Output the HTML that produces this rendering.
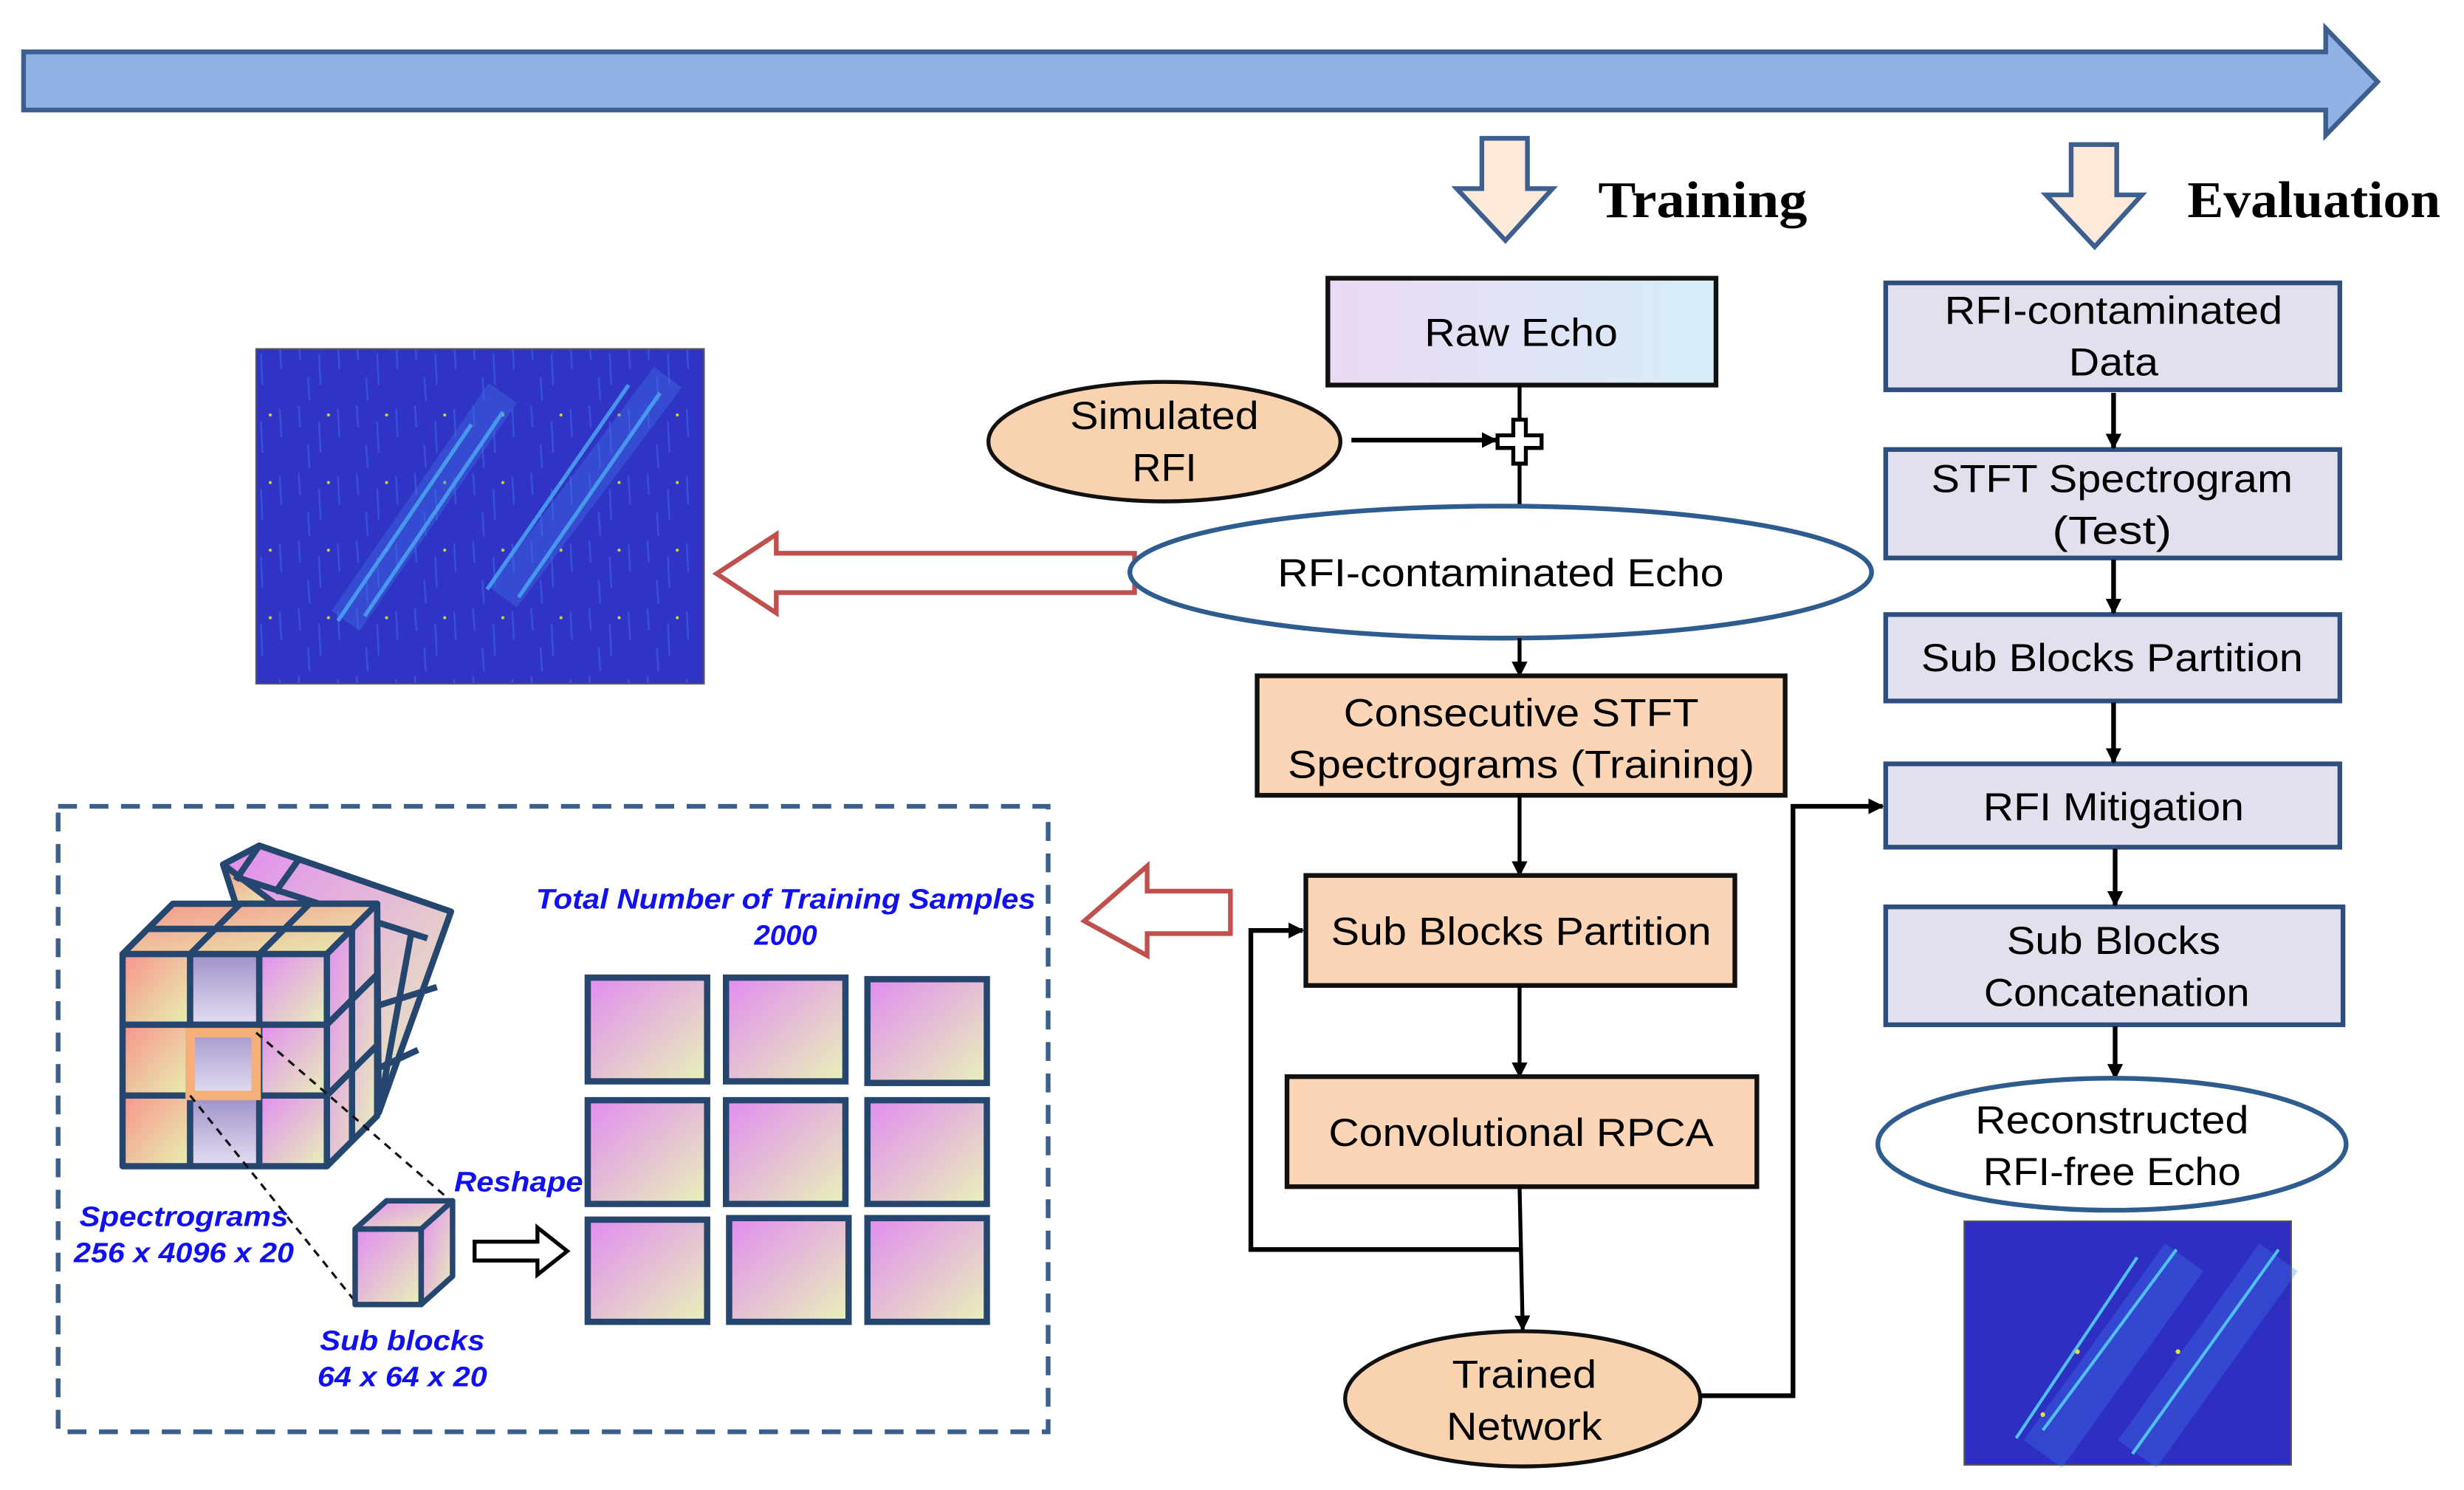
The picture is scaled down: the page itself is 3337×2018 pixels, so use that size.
<!DOCTYPE html>
<html><head><meta charset="utf-8"><style>html,body{margin:0;padding:0;background:#fff}svg{display:block}</style></head>
<body>
<svg width="3337" height="2018" viewBox="0 0 1568 948" preserveAspectRatio="none" xmlns="http://www.w3.org/2000/svg" font-family="Liberation Sans, Arial, sans-serif">
<defs>
<linearGradient id="raw" x1="0" y1="0" x2="1" y2="0"><stop offset="0" stop-color="#ead9f3"/><stop offset="1" stop-color="#d6edf8"/></linearGradient>
<linearGradient id="cellA" x1="0" y1="0" x2="1" y2="1"><stop offset="0" stop-color="#f7948c"/><stop offset="1" stop-color="#e6f0b0"/></linearGradient>
<linearGradient id="cellB" x1="0" y1="0" x2="0" y2="1"><stop offset="0" stop-color="#9f90c8"/><stop offset="1" stop-color="#e3def2"/></linearGradient>
<linearGradient id="cellC" x1="0" y1="0" x2="1" y2="1"><stop offset="0" stop-color="#e18cf0"/><stop offset="1" stop-color="#e8f2b8"/></linearGradient>
<marker id="ah" markerWidth="10" markerHeight="10" refX="9" refY="5" orient="auto" markerUnits="userSpaceOnUse"><path d="M0,0 L10,5 L0,10 z" fill="#000"/></marker>
<pattern id="spec" width="37" height="43" patternUnits="userSpaceOnUse">
<rect width="37" height="43" fill="#3034c4"/>
<path d="M5,0 L6,14 M18,10 L19,30 M30,2 L31,20 M11,25 L12,40" stroke="#3c62e0" stroke-width="1" opacity="0.7"/>
<circle cx="24" cy="6" r="1" fill="#c8d640"/>
</pattern>
</defs>

<!-- top arrow -->
<polygon points="15,33 1480,33 1480,18 1513,52 1480,86 1480,70 15,70" fill="#8eb3e3" stroke="#3c5f8f" stroke-width="3"/>
<!-- down arrows -->
<polygon points="943,88 972,88 972,120 988,120 958,153 927,120 943,120" fill="#fde9da" stroke="#3c5f8f" stroke-width="3"/>
<polygon points="1318,92 1347,92 1347,124 1363,124 1333,157 1302,124 1318,124" fill="#fde9da" stroke="#3c5f8f" stroke-width="3"/>
<text x="1017" y="138" font-family="Liberation Serif, serif" font-weight="bold" font-size="33" textLength="133" lengthAdjust="spacingAndGlyphs">Training</text>
<text x="1392" y="138" font-family="Liberation Serif, serif" font-weight="bold" font-size="33" textLength="161" lengthAdjust="spacingAndGlyphs">Evaluation</text>

<!-- spectrogram left -->
<rect x="163" y="222" width="285" height="213" fill="url(#spec)" stroke="#555" stroke-width="1"/>
<g stroke="#3f78ea" stroke-width="22" opacity="0.35" fill="none">
<path d="M220,395 L320,250"/><path d="M320,380 L425,240"/>
</g>
<g stroke="#49a0f0" stroke-width="2.5" opacity="0.9" fill="none">
<path d="M215,395 L300,270"/><path d="M232,392 L320,262"/><path d="M310,375 L400,245"/><path d="M330,380 L420,250"/>
</g>

<!-- red hollow arrows -->
<polygon points="722,352 494,352 494,340 456,365 494,390 494,377 722,377" fill="#fff" stroke="#c0504d" stroke-width="3"/>
<polygon points="783,567 730,567 730,551 690,586 730,608 730,594 783,594" fill="#fff" stroke="#c0504d" stroke-width="3"/>

<!-- training column -->
<rect x="845" y="177" width="247" height="68" fill="url(#raw)" stroke="#111" stroke-width="3"/>
<text x="968" y="220" font-size="25" text-anchor="middle" textLength="123" lengthAdjust="spacingAndGlyphs">Raw Echo</text>
<line x1="967" y1="245" x2="967" y2="322" stroke="#000" stroke-width="2.5"/>
<ellipse cx="741" cy="281" rx="112" ry="38" fill="#f9d3b0" stroke="#111" stroke-width="2.5"/>
<text x="741" y="273" font-size="25" text-anchor="middle" textLength="120" lengthAdjust="spacingAndGlyphs">Simulated</text>
<text x="741" y="306" font-size="25" text-anchor="middle" textLength="41" lengthAdjust="spacingAndGlyphs">RFI</text>
<line x1="860" y1="280" x2="952" y2="280" stroke="#000" stroke-width="3" marker-end="url(#ah)"/>
<polygon points="963,267 971,267 971,277 981,277 981,285 971,285 971,295 963,295 963,285 953,285 953,277 963,277" fill="#fff" stroke="#000" stroke-width="2.5"/>
<ellipse cx="955" cy="364" rx="236" ry="42" fill="#fff" stroke="#2e5c8f" stroke-width="3"/>
<text x="955" y="373" font-size="25" text-anchor="middle" textLength="284" lengthAdjust="spacingAndGlyphs">RFI-contaminated Echo</text>
<line x1="967" y1="406" x2="967" y2="430" stroke="#000" stroke-width="2.5" marker-end="url(#ah)"/>
<rect x="800" y="430" width="336" height="76" fill="#fbd5b5" stroke="#111" stroke-width="3"/>
<text x="968" y="462" font-size="25" text-anchor="middle" textLength="226" lengthAdjust="spacingAndGlyphs">Consecutive STFT</text>
<text x="968" y="495" font-size="25" text-anchor="middle" textLength="297" lengthAdjust="spacingAndGlyphs">Spectrograms (Training)</text>
<line x1="967" y1="506" x2="967" y2="557" stroke="#000" stroke-width="2.5" marker-end="url(#ah)"/>
<rect x="831" y="557" width="273" height="70" fill="#fbd5b5" stroke="#111" stroke-width="3"/>
<text x="968" y="601" font-size="25" text-anchor="middle" textLength="242" lengthAdjust="spacingAndGlyphs">Sub Blocks Partition</text>
<line x1="967" y1="627" x2="967" y2="685" stroke="#000" stroke-width="2.5" marker-end="url(#ah)"/>
<rect x="819" y="685" width="299" height="70" fill="#fbd5b5" stroke="#111" stroke-width="3"/>
<text x="968" y="729" font-size="25" text-anchor="middle" textLength="245" lengthAdjust="spacingAndGlyphs">Convolutional RPCA</text>
<line x1="967" y1="755" x2="969" y2="846" stroke="#000" stroke-width="2.5" marker-end="url(#ah)"/>
<polyline points="967,795 796,795 796,592 829,592" fill="none" stroke="#000" stroke-width="3" marker-end="url(#ah)"/>
<ellipse cx="969" cy="890" rx="113" ry="43" fill="#f9d3b0" stroke="#111" stroke-width="2.5"/>
<text x="970" y="883" font-size="25" text-anchor="middle" textLength="92" lengthAdjust="spacingAndGlyphs">Trained</text>
<text x="970" y="916" font-size="25" text-anchor="middle" textLength="99" lengthAdjust="spacingAndGlyphs">Network</text>
<polyline points="1082,888 1141,888 1141,513 1198,513" fill="none" stroke="#000" stroke-width="3" marker-end="url(#ah)"/>

<!-- evaluation column -->
<g fill="#e3e0ee" stroke="#2e4e7e" stroke-width="3">
<rect x="1200" y="180" width="289" height="68"/>
<rect x="1200" y="286" width="289" height="69"/>
<rect x="1200" y="391" width="289" height="55"/>
<rect x="1200" y="486" width="289" height="53"/>
<rect x="1200" y="577" width="291" height="75"/>
</g>
<g stroke="#000" stroke-width="3">
<line x1="1345" y1="250" x2="1345" y2="285" marker-end="url(#ah)"/>
<line x1="1345" y1="356" x2="1345" y2="390" marker-end="url(#ah)"/>
<line x1="1345" y1="447" x2="1345" y2="485" marker-end="url(#ah)"/>
<line x1="1346" y1="540" x2="1346" y2="576" marker-end="url(#ah)"/>
<line x1="1346" y1="653" x2="1346" y2="686" marker-end="url(#ah)"/>
</g>
<g font-size="25" text-anchor="middle">
<text x="1345" y="206" textLength="215" lengthAdjust="spacingAndGlyphs">RFI-contaminated</text>
<text x="1345" y="239" textLength="57" lengthAdjust="spacingAndGlyphs">Data</text>
<text x="1344" y="313" textLength="230" lengthAdjust="spacingAndGlyphs">STFT Spectrogram</text>
<text x="1344" y="346" textLength="76" lengthAdjust="spacingAndGlyphs">(Test)</text>
<text x="1344" y="427" textLength="243" lengthAdjust="spacingAndGlyphs">Sub Blocks Partition</text>
<text x="1345" y="522" textLength="166" lengthAdjust="spacingAndGlyphs">RFI Mitigation</text>
<text x="1345" y="607" textLength="136" lengthAdjust="spacingAndGlyphs">Sub Blocks</text>
<text x="1347" y="640" textLength="169" lengthAdjust="spacingAndGlyphs">Concatenation</text>
</g>
<ellipse cx="1344" cy="728" rx="149" ry="42" fill="#fff" stroke="#2e5c8f" stroke-width="3"/>
<text x="1344" y="721" font-size="25" text-anchor="middle" textLength="174" lengthAdjust="spacingAndGlyphs">Reconstructed</text>
<text x="1344" y="754" font-size="25" text-anchor="middle" textLength="164" lengthAdjust="spacingAndGlyphs">RFI-free Echo</text>

<!-- right spectrogram -->
<rect x="1250" y="777" width="208" height="155" fill="#2e2fc2" stroke="#555" stroke-width="1"/>
<g fill="none" stroke="#3f7ef0" stroke-width="30" opacity="0.3"><path d="M1300,925 L1390,800"/><path d="M1360,925 L1450,800"/></g>
<g fill="none" stroke="#4fc0ee" stroke-width="2"><path d="M1283,915 L1360,800"/><path d="M1300,910 L1385,795"/><path d="M1357,925 L1450,795"/></g>
<g fill="#e0e040"><circle cx="1300" cy="900" r="1.5"/><circle cx="1322" cy="860" r="1.5"/><circle cx="1386" cy="860" r="1.5"/></g>

<!-- dashed box -->
<rect x="37" y="513" width="630" height="398" fill="none" stroke="#3a5f8a" stroke-width="3" stroke-dasharray="12,8"/>

<!-- back cube slab -->
<g stroke="#25466e" stroke-width="4" stroke-linejoin="round">
<polygon points="142,550 165,538 287,580 241,708 240,575 150,575" fill="url(#cellC)"/>
<polygon points="142,550 150,575 175,575" fill="url(#cellA)"/>
<line x1="165" y1="538" x2="150" y2="560"/>
<line x1="190" y1="547" x2="175" y2="568"/>
<line x1="150" y1="558" x2="272" y2="597"/>
<line x1="262" y1="592" x2="241" y2="708"/>
<line x1="240" y1="640" x2="278" y2="628"/>
<line x1="240" y1="680" x2="266" y2="668"/>
<polygon points="110,575 240,575 208,607 78,607" fill="url(#cellA)"/>
<line x1="153" y1="575" x2="121" y2="607"/><line x1="197" y1="575" x2="165" y2="607"/>
<line x1="94" y1="591" x2="224" y2="591"/>
<polygon points="208,607 240,575 240,710 208,742" fill="url(#cellC)"/>
<line x1="208" y1="652" x2="240" y2="620"/><line x1="208" y1="697" x2="240" y2="665"/>
<line x1="224" y1="591" x2="224" y2="726"/>
<rect x="78" y="607" width="43" height="45" fill="url(#cellA)"/>
<rect x="121" y="607" width="44" height="45" fill="url(#cellB)"/>
<rect x="165" y="607" width="43" height="45" fill="url(#cellC)"/>
<rect x="78" y="652" width="43" height="45" fill="url(#cellA)"/>
<rect x="121" y="652" width="44" height="45" fill="url(#cellB)"/>
<rect x="165" y="652" width="43" height="45" fill="url(#cellC)"/>
<rect x="78" y="697" width="43" height="45" fill="url(#cellA)"/>
<rect x="121" y="697" width="44" height="45" fill="url(#cellB)"/>
<rect x="165" y="697" width="43" height="45" fill="url(#cellC)"/>
</g>
<rect x="121" y="657" width="42" height="40" fill="none" stroke="#f5b07a" stroke-width="6"/>
<g stroke="#111" stroke-width="1.5" stroke-dasharray="5,4">
<line x1="163" y1="657" x2="288" y2="765"/>
<line x1="121" y1="697" x2="226" y2="828"/>
</g>
<!-- small cube -->
<g stroke="#25466e" stroke-width="3.5" stroke-linejoin="round">
<polygon points="226,782 268,782 288,764 246,764" fill="url(#cellC)"/>
<polygon points="268,782 288,764 288,812 268,830" fill="url(#cellC)"/>
<rect x="226" y="782" width="42" height="48" fill="url(#cellC)"/>
</g>
<polygon points="302,790 342,790 342,781 361,796 342,811 342,802 302,802" fill="#fff" stroke="#000" stroke-width="2.5"/>
<!-- grid -->
<g stroke="#25466e" stroke-width="4" fill="url(#cellC)">
<rect x="374" y="622" width="76" height="66"/><rect x="462" y="622" width="76" height="66"/><rect x="552" y="623" width="76" height="66"/>
<rect x="374" y="700" width="76" height="66"/><rect x="462" y="700" width="76" height="66"/><rect x="552" y="700" width="76" height="66"/>
<rect x="374" y="776" width="76" height="65"/><rect x="464" y="775" width="76" height="66"/><rect x="552" y="775" width="76" height="66"/>
</g>
<g fill="#1010f0" font-weight="bold" font-style="italic" font-size="18" text-anchor="middle">
<text x="500" y="578" textLength="318" lengthAdjust="spacingAndGlyphs">Total Number of Training Samples</text>
<text x="500" y="601">2000</text>
<text x="330" y="758" textLength="82" lengthAdjust="spacingAndGlyphs">Reshape</text>
<text x="117" y="780" textLength="133" lengthAdjust="spacingAndGlyphs">Spectrograms</text>
<text x="117" y="803" textLength="140" lengthAdjust="spacingAndGlyphs">256 x 4096 x 20</text>
<text x="256" y="859" textLength="105" lengthAdjust="spacingAndGlyphs">Sub blocks</text>
<text x="256" y="882" textLength="108" lengthAdjust="spacingAndGlyphs">64 x 64 x 20</text>
</g>
</svg>
</body></html>
